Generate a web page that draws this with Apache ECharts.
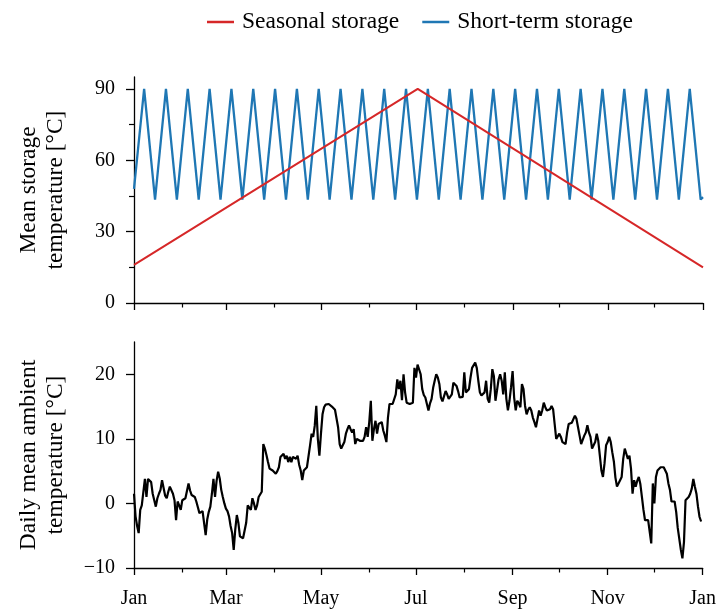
<!DOCTYPE html>
<html>
<head>
<meta charset="utf-8">
<script src="https://cdn.jsdelivr.net/npm/echarts@6/dist/echarts.min.js"></script>
<style>
html,body{margin:0;padding:0;background:#fff;}
#chart{width:719px;height:615px;}
</style>
</head>
<body>
<div id="chart"></div>
<script>
// ---- data ----
const majorMonthDays = [0, 59, 120, 181, 243, 304, 365];
const majorMonthLabels = ['Jan', 'Mar', 'May', 'Jul', 'Sep', 'Nov', 'Jan'];
const minorMonthDays = [31, 90, 151, 212, 273, 334];

const storageTicks = [0, 30, 60, 90];
const storageMinorTicks = [15, 45, 75];
const ambientTicks = [-10, 0, 10, 20];

const seasonalDays = [0, 182, 365];
const seasonalTemp = [16, 90, 15];

const shortTermDays = [0, 6.5, 13.5, 20.5, 27.5, 34.5, 41.5, 48.5, 55.5, 62.5, 69.5, 76.5, 83.5, 90.5, 97.5,
  104.5, 111.5, 118.5, 125.5, 132.5, 139.5, 146.5, 153.5, 160.5, 167.5, 174.5, 181.5, 188.5, 195.5,
  202.5, 209.5, 216.5, 223.5, 230.5, 237.5, 244.5, 251.5, 258.5, 265.5, 272.5, 279.5, 286.5, 293.5,
  300.5, 307.5, 314.5, 321.5, 328.5, 335.5, 342.5, 349.5, 356.5, 363.5, 365];
const shortTermTemp = [48, 90, 43.5, 90, 43.5, 90, 43.5, 90, 43.5, 90, 43.5, 90, 43.5, 90, 43.5,
  90, 43.5, 90, 43.5, 90, 43.5, 90, 43.5, 90, 43.5, 90, 43.5, 90, 43.5,
  90, 43.5, 90, 43.5, 90, 43.5, 90, 43.5, 90, 43.5, 90, 43.5, 90, 43.5,
  90, 43.5, 90, 43.5, 90, 43.5, 90, 43.5, 90, 43.5, 44.5];

// daily mean ambient temperature, day 0 .. 364
const ambientTemp = [
  1.5, -2.0, -3.5, -4.6, -1.0, -0.3, 0.0, 3.8, 1.0, 3.8,
  3.9, 3.3, 1.5, 0.5, -0.5, 0.8, 1.5, 2.1, 3.6, 2.4,
  1.2, 0.8, 1.8, 2.6, 2.3, 1.5, 0.5, -2.6, 0.3, -0.3,
  -1.0, 0.5, 0.6, 0.8, 1.0, 3.1, 2.0, 1.3, 1.2, 1.0,
  0.3, -0.6, -1.5, -1.8, -1.2, -1.0, -4.9, -2.5, -1.3, -0.5,
  1.5, 3.8, 1.0, 3.5, 4.9, 3.9, 2.1, 1.0, 0.0, -0.8,
  -1.2, -2.0, -3.5, -4.6, -7.2, -4.0, -1.8, -3.0, -5.1, -5.3,
  -5.4, -5.4, -3.0, -0.3, 0.0, -1.0, 0.8, 0.0, -1.0, -0.3,
  1.0, 1.3, 1.8, 9.2, 8.5, 7.5, 6.4, 5.4, 5.6, 5.1,
  4.9, 4.6, 5.0, 5.6, 7.2, 7.5, 7.7, 6.9, 7.4, 6.4,
  7.2, 6.4, 7.2, 6.9, 6.9, 7.4, 6.0, 5.1, 3.6, 5.1,
  5.4, 5.6, 5.9, 9.0, 10.8, 10.3, 12.0, 15.1, 10.0, 7.4,
  10.8, 13.8, 14.9, 15.3, 15.6, 15.4, 15.1, 15.0, 14.9, 14.5,
  14.4, 11.8, 9.2, 8.5, 8.2, 9.5, 10.8, 11.5, 12.1, 11.5,
  11.0, 11.5, 9.2, 10.0, 9.8, 9.7, 9.7, 9.7, 10.3, 11.8,
  10.3, 12.6, 15.9, 9.7, 11.5, 12.8, 10.8, 12.3, 12.5, 12.6,
  11.3, 10.5, 9.5, 13.3, 15.4, 15.4, 15.4, 15.6, 16.9, 19.2,
  17.7, 19.0, 16.0, 20.0, 17.2, 15.6, 15.5, 15.4, 15.4, 15.6,
  21.0, 19.5, 21.5, 21.5, 20.0, 17.7, 16.8, 16.4, 15.4, 14.4,
  15.5, 16.2, 17.9, 19.0, 20.0, 19.5, 18.5, 16.4, 15.8, 15.6,
  17.4, 16.9, 16.2, 16.5, 16.9, 18.7, 19.0, 18.2, 17.4, 16.4,
  16.7, 16.5, 20.3, 17.2, 17.5, 17.7, 19.5, 21.0, 21.3, 21.8,
  21.0, 19.0, 17.2, 16.7, 16.4, 17.2, 19.0, 16.2, 15.6, 17.7,
  20.8, 19.7, 15.9, 17.5, 19.2, 20.0, 19.0, 16.9, 20.3, 16.2,
  14.4, 15.9, 18.0, 20.5, 16.4, 14.4, 15.9, 15.5, 14.9, 18.5,
  17.7, 15.1, 13.8, 14.5, 14.9, 14.4, 13.3, 12.6, 11.8, 13.1,
  14.4, 13.6, 14.4, 15.6, 14.9, 14.4, 14.6, 14.6, 15.1, 14.6,
  12.3, 10.0, 10.0, 10.8, 10.3, 9.5, 9.3, 9.2, 11.0, 12.3,
  12.3, 12.5, 12.8, 13.6, 13.1, 11.8, 10.5, 9.2, 9.5, 10.5,
  11.0, 12.1, 11.0, 10.3, 8.5, 9.0, 9.5, 10.8, 9.7, 7.4,
  5.1, 4.1, 6.2, 9.0, 9.5, 10.3, 9.5, 7.9, 6.5, 4.0,
  2.6, 2.3, 3.6, 4.1, 6.9, 8.5, 7.7, 6.9, 7.4, 5.4,
  1.5, 3.6, 2.6, 3.5, 4.1, 3.0, 1.0, -1.0, -2.6, -2.6,
  -2.6, -2.6, -6.2, 3.1, 0.0, 4.1, 5.1, 4.8, 5.6, 5.6,
  5.6, 5.1, 4.6, 3.1, 2.1, 0.3, 0.5, 0.3, -1.3, -3.8,
  -4.1, -7.2, -8.5, -6.0, 0.5, 0.8, 1.0, 1.5, 2.3, 3.8,
  2.6, 1.5, -0.5, -2.1, -2.8
];

// ---- chart ----
const FONT = 'Liberation Serif';
const FS = 20;      // tick labels
const FS_BIG = 23.5; // legend and axis names
const axisLineStyle = { color: '#000', width: 1.3 };

function xMajor(gridIndex, showLabels) {
  return {
    type: 'value', gridIndex: gridIndex, min: 0, max: 365,
    axisLine: { show: true, onZero: false, lineStyle: axisLineStyle },
    axisTick: { show: true, customValues: majorMonthDays, length: 7, lineStyle: { color: '#000', width: 1.3 } },
    axisLabel: {
      show: showLabels, customValues: majorMonthDays, margin: 21,
      fontFamily: FONT, fontSize: FS, color: '#000',
      formatter: function (v) { const i = majorMonthDays.indexOf(Math.round(v)); return i >= 0 ? majorMonthLabels[i] : ''; }
    },
    splitLine: { show: false }
  };
}
function xMinor(gridIndex) {
  return {
    type: 'value', gridIndex: gridIndex, min: 0, max: 365, position: 'bottom',
    axisLine: { show: false, onZero: false },
    axisTick: { show: true, customValues: minorMonthDays, length: 4.5, lineStyle: { color: '#000', width: 1.2 } },
    axisLabel: { show: false },
    splitLine: { show: false }
  };
}

const option = {
  animation: false,
  backgroundColor: '#fff',
  textStyle: { fontFamily: FONT },
  legend: {
    top: 5, left: 202,
    itemWidth: 27, itemHeight: 2.5, itemGap: 23,
    icon: 'rect',
    textStyle: { fontFamily: FONT, fontSize: FS_BIG, color: '#000', padding: [0, 0, 0, 3] },
    data: ['Seasonal storage', 'Short-term storage']
  },
  grid: [
    { left: 134, right: 16, top: 77, height: 226 },
    { left: 134, right: 16, top: 342, height: 226 }
  ],
  xAxis: [xMajor(0, false), xMinor(0), xMajor(1, true), xMinor(1)],
  yAxis: [
    {
      type: 'value', gridIndex: 0, min: 0, max: 95, position: 'left',
      name: 'Mean storage\ntemperature [°C]', nameLocation: 'middle', nameGap: 65,
      nameTextStyle: { fontFamily: FONT, fontSize: FS_BIG, color: '#000', lineHeight: 27 },
      axisLine: { show: true, onZero: false, lineStyle: axisLineStyle },
      axisTick: { show: true, customValues: storageTicks, length: 8, lineStyle: { color: '#000', width: 1.3 } },
      axisLabel: { customValues: storageTicks, margin: 19, fontFamily: FONT, fontSize: FS, color: '#000' },
      splitLine: { show: false }
    },
    {
      type: 'value', gridIndex: 0, min: 0, max: 95, position: 'left',
      axisLine: { show: false, onZero: false },
      axisTick: { show: true, customValues: storageMinorTicks, length: 5, lineStyle: { color: '#000', width: 1.2 } },
      axisLabel: { show: false }, splitLine: { show: false }
    },
    {
      type: 'value', gridIndex: 1, min: -10, max: 25, position: 'left',
      name: 'Daily mean ambient\ntemperature [°C]', nameLocation: 'middle', nameGap: 65,
      nameTextStyle: { fontFamily: FONT, fontSize: FS_BIG, color: '#000', lineHeight: 27 },
      axisLine: { show: true, onZero: false, lineStyle: axisLineStyle },
      axisTick: { show: true, customValues: ambientTicks, length: 8, lineStyle: { color: '#000', width: 1.3 } },
      axisLabel: {
        customValues: ambientTicks, margin: 19, fontFamily: FONT, fontSize: FS, color: '#000',
        formatter: function (v) { return String(v).replace('-', '\u2212'); }
      },
      splitLine: { show: false }
    }
  ],
  series: [
    {
      name: 'Seasonal storage', type: 'line', xAxisIndex: 0, yAxisIndex: 0,
      showSymbol: false, symbol: 'none', color: '#d62728',
      lineStyle: { width: 2, color: '#d62728' },
      data: seasonalDays.map((d, i) => [d, seasonalTemp[i]]), z: 3
    },
    {
      name: 'Short-term storage', type: 'line', xAxisIndex: 0, yAxisIndex: 0,
      showSymbol: false, symbol: 'none', color: '#1f77b4',
      lineStyle: { width: 2.3, color: '#1f77b4' },
      data: shortTermDays.map((d, i) => [d, shortTermTemp[i]]), z: 2
    },
    {
      name: 'Ambient', type: 'line', xAxisIndex: 2, yAxisIndex: 2,
      showSymbol: false, symbol: 'none', color: '#000',
      lineStyle: { width: 2.2, color: '#000' },
      data: ambientTemp.map((v, i) => [i, v])
    }
  ]
};

const chart = echarts.init(document.getElementById('chart'), null, { renderer: 'canvas' });
chart.setOption(option);
</script>
</body>
</html>
